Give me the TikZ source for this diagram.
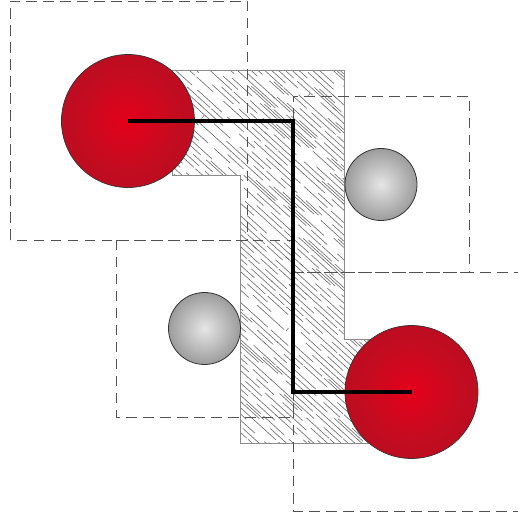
\documentclass[tikz,border=0pt]{standalone}
\definecolor{redmid}{HTML}{E4001A}
\definecolor{redin}{HTML}{C40C20}
\definecolor{redout}{HTML}{A20F1E}
\definecolor{graymid}{HTML}{E6E6E6}
\definecolor{grayin}{HTML}{9C9C9C}
\definecolor{grayout}{HTML}{686868}
\pgfdeclareradialshading{redball}{\pgfpoint{0bp}{0bp}}{color(0bp)=(redmid); color(18bp)=(redin); color(50bp)=(redout)}
\pgfdeclareradialshading{grayball}{\pgfpoint{0bp}{0bp}}{color(0bp)=(graymid); color(25bp)=(grayin); color(50bp)=(grayout)}
\tikzset{
  bigball/.style={circle,draw=black!80,line width=.7pt,minimum size=133pt,inner sep=0pt,shading=redball},
  smallball/.style={circle,draw=black!80,line width=.8pt,minimum size=72pt,inner sep=0pt,shading=grayball},
  cell/.style={draw=black!68,line width=.95pt,dash pattern=on 10.5pt off 6.5pt},
  wire/.style={draw=black,line width=3.4pt,line join=miter},
  walledge/.style={draw=black!45,line width=.8pt},
  hatchline/.style={draw=black!58,line width=.6pt}
}
\begin{document}
\begin{tikzpicture}[x=1pt,y=-1pt]
\useasboundingbox (0,0) rectangle (525,518);
\fill[white] (0,0) rectangle (525,518);
\def\wallpath{(172,70) -- (344.5,70) -- (344.5,339.5) -- (395,339.5) -- (395,443.5) -- (240.5,443.5) -- (240.5,175.5) -- (172,175.5) -- cycle}
\begin{scope}
  \clip \wallpath;
  \pgfmathsetseed{4217}
  \foreach \s in {-44,...,44}{
    \pgfmathsetmacro\shift{mod(abs(\s)*13,36)}
    \foreach \k in {-9,...,9}{
      \pgfmathsetmacro\ss{\s*4.6}
      \pgfmathsetmacro\tt{\k*36+6*rnd+\shift}
      \pgfmathsetmacro\ll{20+19*rnd}
      \pgfmathsetmacro\keep{rnd}
      \ifdim\keep pt<0.88pt
        \draw[hatchline] ({285+\tt*.74+\ss*.67},{256+\tt*.67-\ss*.74}) -- ++({\ll*.74},{\ll*.67});
      \fi
      \ifdim\keep pt<0.10pt
        \draw[hatchline] ({285+(\tt+4)*.74+(\ss+2.3)*.67},{256+(\tt+4)*.67-(\ss+2.3)*.74}) -- ++({\ll*.74},{\ll*.67});
      \fi
      \ifdim\keep pt>0.95pt
        \draw[hatchline] ({285+\tt*.74+\ss*.67},{256+\tt*.67-\ss*.74}) -- ++(2.6,-3);
      \fi
    }
  }
\end{scope}
\draw[walledge] \wallpath;
\draw[cell] (10,240) -- (10,1) -- (247,1) -- (247,240) -- cycle;
\draw[cell] (116,240) -- (116,417) -- (293,417) -- (293,240) -- cycle;
\draw[cell] (293,272) -- (293,96) -- (469,96) -- (469,272) -- cycle;
\draw[cell] (293,272) -- (518,272);
\draw[cell] (293,272) -- (293,511) -- (518,511);
\node[bigball] (redA) at (128,121) {};
\node[bigball] (redB) at (411.5,392) {};
\node[smallball] (grayA) at (381,184.5) {};
\node[smallball] (grayB) at (204.5,328.5) {};
\coordinate (bendA) at (293,121);
\coordinate (bendB) at (293,392);
\draw[wire] (redA.center) -- (bendA) -- (bendB) -- (redB.center);
\end{tikzpicture}
\end{document}
